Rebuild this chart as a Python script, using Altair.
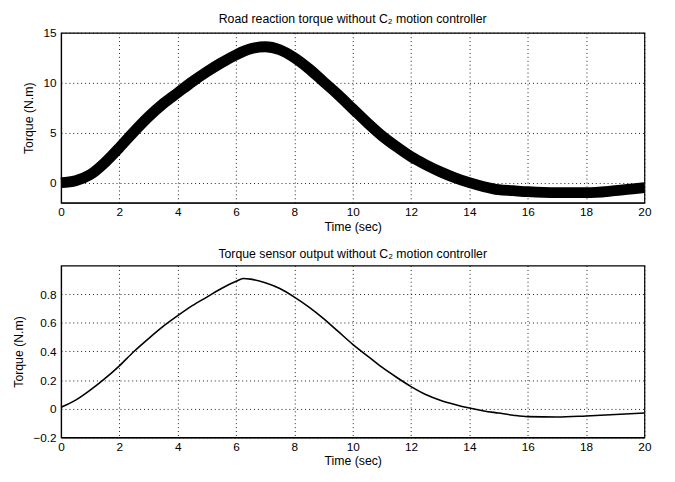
import altair as alt
import pandas as pd

# Top panel: road reaction torque (centre of the thick noisy band)
t_top = [0, 0.5, 1, 1.5, 2, 2.5, 3, 3.5, 4, 4.5, 5, 5.5, 6, 6.5, 7, 7.5, 8, 8.5, 9, 9.5,
         10, 10.5, 11, 11.5, 12, 12.5, 13, 13.5, 14, 14.5, 15, 15.5, 16, 17, 18, 19, 20]
torque_top = [0.0, 0.2, 0.8, 2.0, 3.5, 5.1, 6.6, 7.9, 9.0, 10.1, 11.1, 12.0, 12.8, 13.4, 13.6,
              13.3, 12.5, 11.4, 10.1, 8.8, 7.4, 6.0, 4.7, 3.6, 2.6, 1.8, 1.1, 0.5, 0.0, -0.4,
              -0.7, -0.8, -0.9, -1.0, -1.0, -0.8, -0.5]

# Bottom panel: torque sensor output
t_bot = [0, 0.5, 1, 1.5, 2, 2.5, 3, 3.5, 4, 4.5, 5, 5.5, 6, 6.25, 6.5, 7, 7.5, 8, 8.5, 9, 9.5,
         10, 10.5, 11, 11.5, 12, 12.5, 13, 13.5, 14, 14.5, 15, 15.5, 16, 17, 18, 19, 20]
torque_bot = [0.01, 0.06, 0.13, 0.21, 0.30, 0.40, 0.49, 0.575, 0.65, 0.72, 0.78, 0.84, 0.89,
              0.91, 0.905, 0.88, 0.84, 0.78, 0.71, 0.63, 0.54, 0.45, 0.37, 0.29, 0.22, 0.155,
              0.10, 0.06, 0.03, 0.005, -0.015, -0.03, -0.045, -0.055, -0.057, -0.05, -0.04, -0.03]

x_ticks = list(range(0, 21, 2))
top_yticks = [0, 5, 10, 15]
bot_yticks = [-0.2, 0, 0.2, 0.4, 0.6, 0.8]

FONT = "Liberation Sans"
W = 594

df_top = pd.DataFrame({"t": t_top, "v": torque_top})
df_bot = pd.DataFrame({"t": t_bot, "v": torque_bot})


def xaxis(label_pad, title_pad):
    return alt.Axis(values=x_ticks, title="Time (sec)", format="d", labelFlush=False,
                    ticks=False, labelPadding=label_pad, titlePadding=title_pad)


def yaxis(vals, fmt):
    return alt.Axis(values=vals, title="Torque (N.m)", ticks=False, format=fmt,
                    labelPadding=5, titlePadding=8, labelFlush=False)


top = alt.Chart(df_top).mark_line(color="black", strokeWidth=11, interpolate="monotone",
                                  strokeCap="butt").encode(
    x=alt.X("t:Q", scale=alt.Scale(domain=[0, 20], nice=False), axis=xaxis(4, 3.5)),
    y=alt.Y("v:Q", scale=alt.Scale(domain=[-2, 15], nice=False), axis=yaxis(top_yticks, "d")),
).properties(
    width=W, height=173,
    title=alt.TitleParams("Road reaction torque without C₂ motion controller",
                          fontSize=12.5, fontWeight="normal", font=FONT, offset=0),
)

bottom = alt.Chart(df_bot).mark_line(color="black", strokeWidth=1.6,
                                     interpolate="monotone").encode(
    x=alt.X("t:Q", scale=alt.Scale(domain=[0, 20], nice=False), axis=xaxis(4, 3)),
    y=alt.Y("v:Q", scale=alt.Scale(domain=[-0.2, 1.0], nice=False),
            axis=yaxis(bot_yticks, ".1~f")),
).properties(
    width=W, height=175,
    title=alt.TitleParams("Torque sensor output without C₂ motion controller",
                          fontSize=12.5, fontWeight="normal", font=FONT, offset=5),
)

chart = alt.vconcat(top, bottom, spacing=13).properties(
    padding={"left": 3, "top": 0, "right": 0, "bottom": 0},
    background="white",
).configure_view(
    stroke="black", strokeWidth=1.2
).configure_axis(
    grid=True, gridColor="black", gridDash=[1, 3], gridOpacity=0.9, gridWidth=1,
    domainColor="black", domainWidth=1.2,
    labelFont=FONT, labelFontSize=12, labelColor="black",
    titleFont=FONT, titleFontSize=12.5, titleFontWeight="normal", titleColor="black",
)

chart.save("out.html", embed_options={"renderer": "svg", "actions": False})
